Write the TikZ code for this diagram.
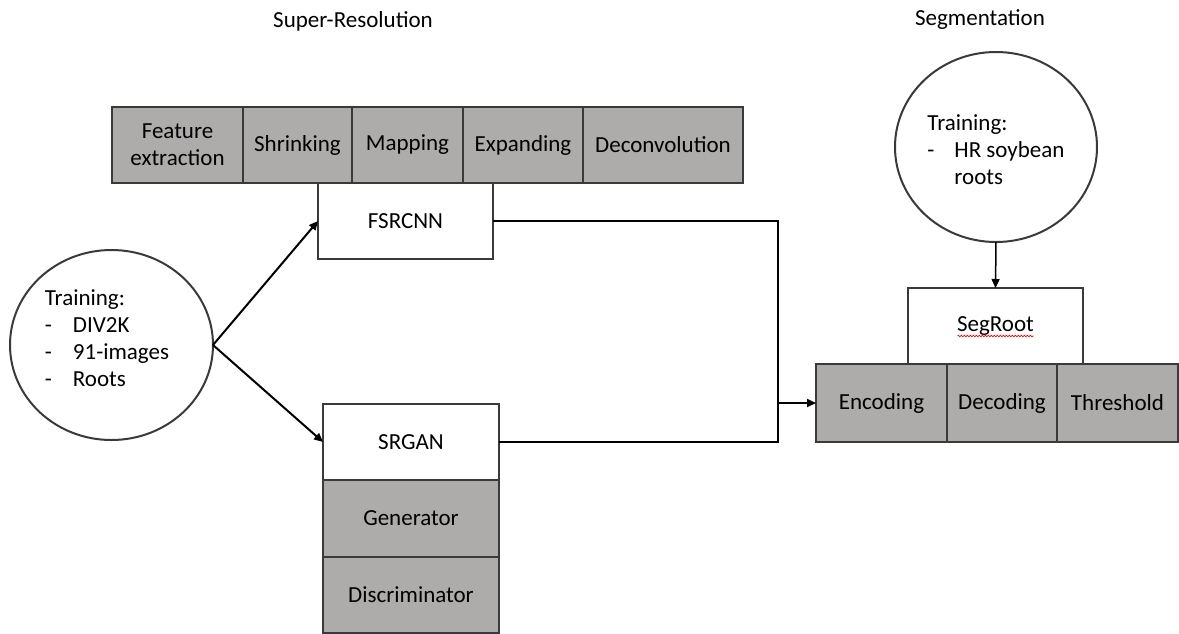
\documentclass[tikz,border=0pt]{standalone}
\usepackage{fontspec}
\setmainfont{Carlito}
\usetikzlibrary{positioning,shapes.geometric,arrows.meta,decorations.pathmorphing}
\definecolor{boxgray}{HTML}{3A3A3A}
\definecolor{layergray}{HTML}{AEABAB}
\begin{document}
\begin{tikzpicture}[
    x=1pt, y=-1pt,
    every node/.style={font=\fontsize{23}{27}\selectfont, outer sep=0pt},
    layer/.style={draw=boxgray, line width=2.5pt, fill=layergray, minimum height=76pt, inner sep=0pt, align=center},
    net/.style={draw=boxgray, line width=2.5pt, fill=white, minimum height=76pt, inner sep=0pt},
    data/.style={ellipse, draw=boxgray, line width=2pt, minimum width=203pt, minimum height=190pt, inner sep=0pt},
    list/.style={align=left, inner sep=0pt},
    link/.style={line width=2pt},
    flow/.style={link, -{Triangle[length=9pt,width=8pt]}},
    spell/.style={red, line width=0.7pt, decorate, decoration={snake, amplitude=0.8pt, segment length=3pt}}
]
\useasboundingbox (0,0) rectangle (1179,633);

% titles
\node (srtitle) at (353,21) {Super-Resolution};
\node (segtitle) at (980,20) {Segmentation};

% FSRCNN layers
\node[layer, minimum width=131pt, anchor=north west] (feat) at (112,107) {Feature\\ extraction};
\node[layer, minimum width=109pt, right=0pt of feat] (shrink) {Shrinking};
\node[layer, minimum width=111pt, right=0pt of shrink] (mapping) {Mapping};
\node[layer, minimum width=120pt, right=0pt of mapping] (expand) {Expanding};
\node[layer, minimum width=160pt, right=0pt of expand] (deconv) {Deconvolution};
\node[net, minimum width=175pt, anchor=north west] (fsrcnn) at (318,183) {FSRCNN};

% SRGAN stack
\node[net, minimum width=176pt, anchor=north west] (srgan) at (323,404) {SRGAN};
\node[layer, minimum width=176pt, minimum height=77pt, below=0pt of srgan] (gen) {Generator};
\node[layer, minimum width=176pt, below=0pt of gen] (disc) {Discriminator};

% SegRoot
\node[net, minimum width=175pt, anchor=north west] (segroot) at (908,288) {SegRoot};
\node[layer, minimum width=131pt, minimum height=78pt, anchor=north west] (enc) at (816,364) {Encoding};
\node[layer, minimum width=110pt, minimum height=78pt, right=0pt of enc] (dec) {Decoding};
\node[layer, minimum width=121pt, minimum height=78pt, right=0pt of dec] (thresh) {Threshold};
\draw[spell] ([shift={(-38,10)}]segroot.center) -- ([shift={(38,10)}]segroot.center);

% training data
\node[data] (trainsr) at (111.5,345) {};
\node[list] (srlist) at (107,338) {Training:\\ \makebox[28pt][l]{-}DIV2K\\ \makebox[28pt][l]{-}91-images\\ \makebox[28pt][l]{-}Roots};
\node[data, minimum width=202pt] (trainseg) at (996,147) {};
\node[list] (seglist) at (996,150) {Training:\\ \makebox[27pt][l]{-}HR soybean\\ \hspace*{27pt}roots};

% connectors
\coordinate (merge) at (778,403);
\draw[flow] (trainsr.east) -- (fsrcnn.west);
\draw[flow] (trainsr.east) -- (srgan.west);
\draw[link] (fsrcnn.east) -| (merge) |- (srgan.east);
\draw[flow] (merge) -- (enc.west);
\draw[flow, line width=1.5pt] (trainseg.south) -- (segroot.north);
\end{tikzpicture}
\end{document}
